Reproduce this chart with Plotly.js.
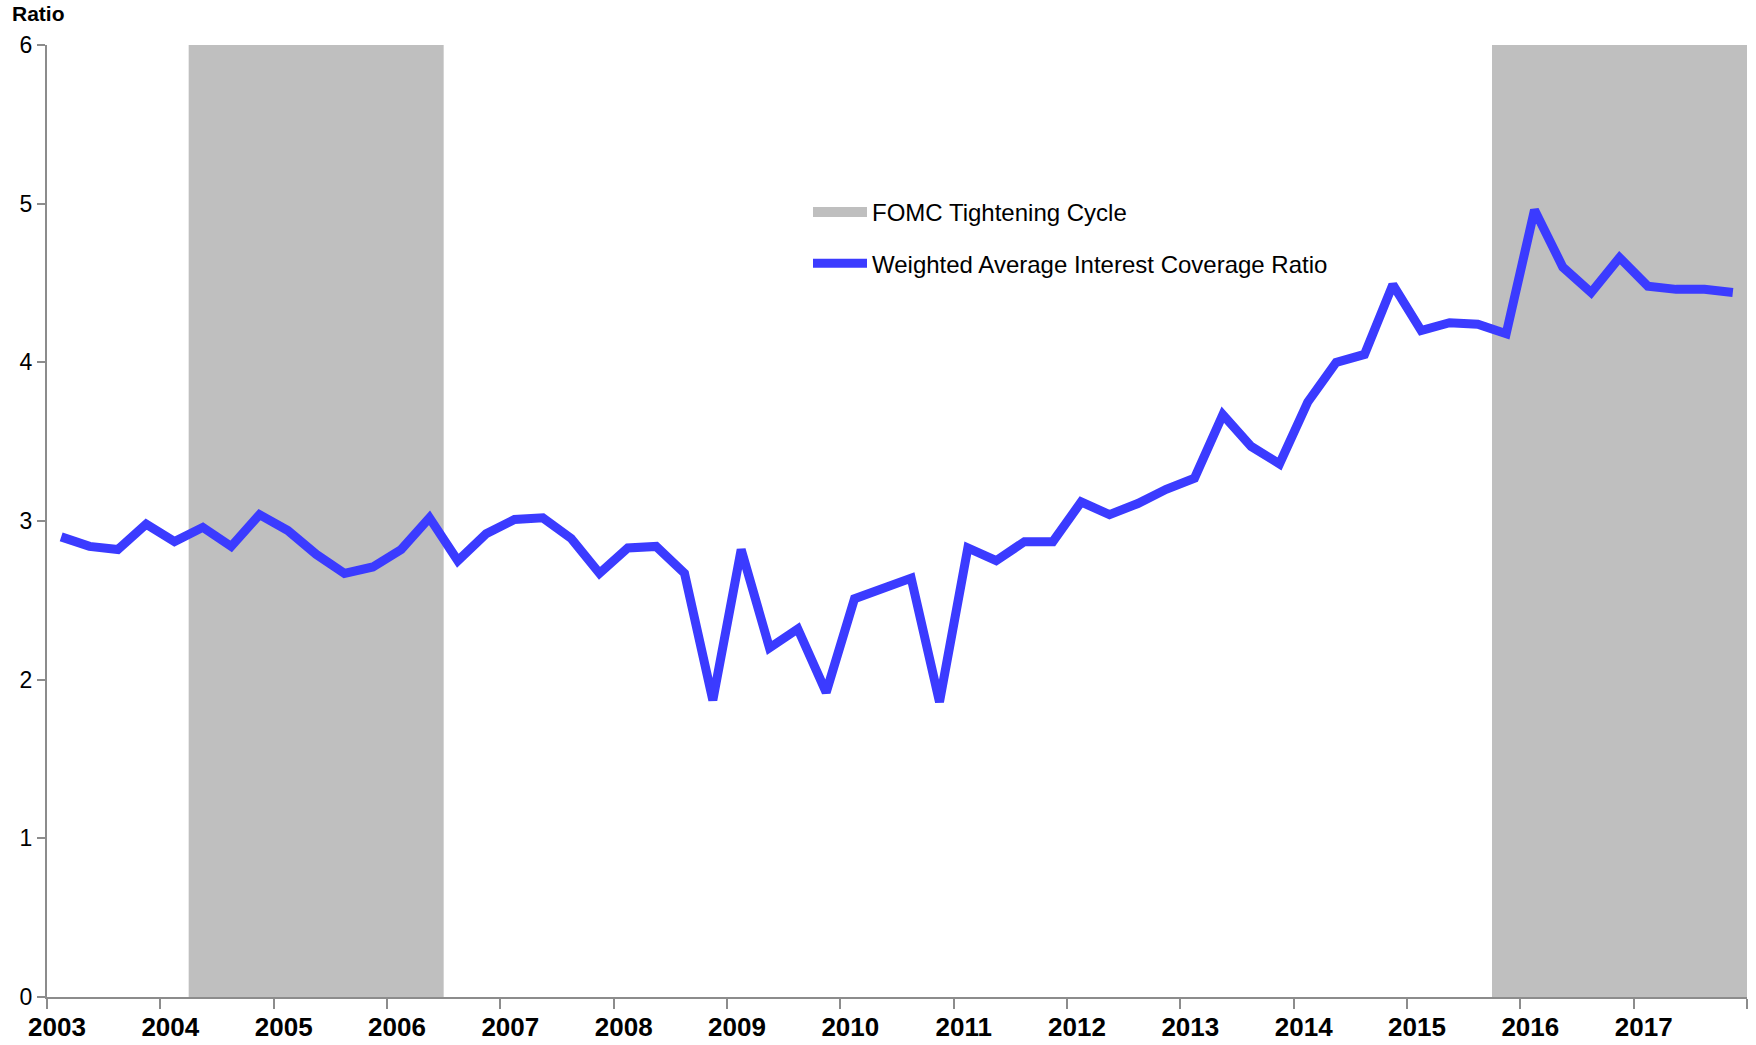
<!DOCTYPE html>
<html>
<head>
<meta charset="utf-8">
<script src="https://cdn.plot.ly/plotly-3.0.1.min.js"></script>
<style>html,body{margin:0;padding:0;background:#fff;}#chart{width:1756px;height:1045px;}</style>
</head>
<body>
<div id="chart"></div>
<script>
// Quarterly observations, 2003Q1 .. 2017Q4
const years = [2003,2004,2005,2006,2007,2008,2009,2010,2011,2012,2013,2014,2015,2016,2017];
const quarters = [1,2,3,4];
const coverageRatio = [
  2.90, 2.84, 2.82, 2.98,   // 2003
  2.87, 2.96, 2.84, 3.04,   // 2004
  2.94, 2.79, 2.67, 2.71,   // 2005
  2.82, 3.02, 2.75, 2.92,   // 2006
  3.01, 3.02, 2.89, 2.67,   // 2007
  2.83, 2.84, 2.67, 1.87,   // 2008
  2.82, 2.20, 2.32, 1.92,   // 2009
  2.51, 2.57, 2.64, 1.86,   // 2010
  2.83, 2.75, 2.87, 2.87,   // 2011
  3.12, 3.04, 3.11, 3.20,   // 2012
  3.27, 3.67, 3.47, 3.36,   // 2013
  3.75, 4.00, 4.05, 4.49,   // 2014
  4.20, 4.25, 4.24, 4.18,   // 2015
  4.96, 4.60, 4.44, 4.66,   // 2016
  4.48, 4.46, 4.46, 4.44    // 2017
];
// FOMC tightening cycles (fractional years)
const cycleStart = [2004.25, 2015.75];
const cycleEnd   = [2006.5, 2018.0];
const tickYears = [2003,2004,2005,2006,2007,2008,2009,2010,2011,2012,2013,2014,2015,2016,2017,2018];
const tickLabels = ['2003','2004','2005','2006','2007','2008','2009','2010','2011','2012','2013','2014','2015','2016','2017',''];
const yTicks = [0,1,2,3,4,5,6];

const xq = [];
years.forEach(y => quarters.forEach(q => xq.push(y + (q - 0.5) / 4)));

const SHADE = '#BFBFBF';
const BLUE = '#3B3BFF';
const AXIS = '#8C8C8C';
const FONT = 'Liberation Sans, Arial, sans-serif';

const traces = [
  {
    x: [null], y: [null], type: 'scatter', mode: 'lines',
    name: 'FOMC Tightening Cycle',
    line: {color: SHADE, width: 12},
    legendgroup: 'a', hoverinfo: 'skip'
  },
  {
    x: xq, y: coverageRatio, type: 'scatter', mode: 'lines',
    name: 'Weighted Average Interest Coverage Ratio',
    line: {color: BLUE, width: 9, shape: 'linear'},
    legendgroup: 'b'
  }
];

const shapes = cycleStart.map((s, i) => ({
  type: 'rect', xref: 'x', yref: 'paper',
  x0: s, x1: cycleEnd[i], y0: 0, y1: 1,
  fillcolor: SHADE, line: {width: 0}, layer: 'below'
}));

const L = 47, R = 9, T = 45, B = 48;
const PW = 1756 - L - R, PH = 1045 - T - B;

const layout = {
  width: 1756, height: 1045,
  margin: {l: L, r: R, t: T, b: B},
  paper_bgcolor: '#fff', plot_bgcolor: '#fff',
  font: {family: FONT, color: '#000'},
  showlegend: true,
  title: {
    text: 'Ratio', xref: 'container', yref: 'container',
    x: 12/1756, xanchor: 'left', y: 1 - 14/1045, yanchor: 'middle',
    font: {family: FONT, size: 21, weight: 'bold', color: '#000'}
  },
  xaxis: {
    range: [2003, 2018], type: 'linear',
    tickmode: 'array', tickvals: tickYears, ticktext: tickLabels,
    ticks: 'outside', ticklen: 10, tickwidth: 2, tickcolor: AXIS,
    showline: true, linecolor: AXIS, linewidth: 2,
    showgrid: false, zeroline: false,
    ticklabelshift: 10, ticklabelstandoff: -4,
    tickfont: {family: FONT, size: 26, weight: 'bold', color: '#000'}
  },
  yaxis: {
    range: [0, 6], tickmode: 'array', tickvals: yTicks,
    ticks: 'outside', ticklen: 8, tickwidth: 2, tickcolor: AXIS,
    showline: true, linecolor: AXIS, linewidth: 2,
    showgrid: false, zeroline: false,
    tickfont: {family: FONT, size: 23, color: '#000'}
  },
  legend: {
    x: (808 - L) / PW, xanchor: 'left',
    y: (1045 - B - 190) / PH, yanchor: 'top',
    bgcolor: 'rgba(0,0,0,0)', borderwidth: 0,
    font: {family: FONT, size: 24, color: '#000'},
    itemwidth: 54, tracegroupgap: 17, traceorder: 'grouped'
  },
  shapes: shapes
};

Plotly.newPlot('chart', traces, layout, {displayModeBar: false, staticPlot: true});
</script>
</body>
</html>
